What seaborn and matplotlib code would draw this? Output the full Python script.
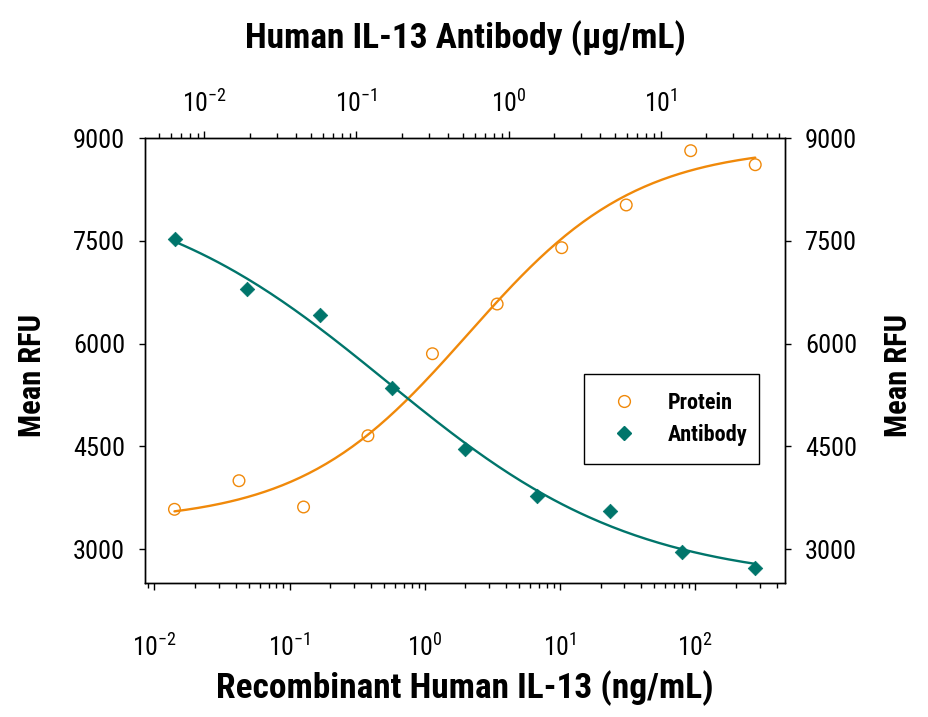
import numpy as np
import matplotlib
matplotlib.use("Agg")
import matplotlib.pyplot as plt
import seaborn as sns
from matplotlib import font_manager
from matplotlib.lines import Line2D

# Valeurs
protein_conc = [0.0141, 0.0423, 0.127, 0.38, 1.14, 3.43, 10.3, 30.9, 92.6, 278]   # ng/mL (axe du bas)
protein_rfu = [3580, 3998, 3614, 4655, 5853, 6579, 7402, 8026, 8819, 8614]
antibody_conc = [0.00635, 0.0191, 0.0572, 0.171, 0.514, 1.54, 4.63, 13.9, 41.7]  # ug/mL (axe du haut)
antibody_rfu = [7529, 6803, 6419, 5348, 4461, 3774, 3555, 2961, 2727]
y_ticks = [3000, 4500, 6000, 7500, 9000]

ORANGE = "#F0890A"
TEAL = "#00756B"

# police etroite : on prend ce qui est installe
fonts = font_manager.fontManager.ttflist
names = {f.name for f in fonts}
found = {(f.name, f.stretch) for f in fonts}
FONT, STRETCH = "DejaVu Sans", "normal"
for cand in ["Liberation Sans Narrow", "Roboto Condensed", "Open Sans Condensed"]:
    if cand in names:
        FONT, STRETCH = cand, "normal"
        break
else:
    for cand in ["Roboto", "Open Sans", "Noto Sans", "DejaVu Sans"]:
        if (cand, "condensed") in found:
            FONT, STRETCH = cand, "condensed"
            break


def fit_4pl(x, y):
    # ajustement logistique 4 parametres (recherche sur grille, bas/haut par moindres carres)
    lx = np.log10(np.asarray(x, float))
    y = np.asarray(y, float)
    logc = np.arange(-3, 3, 0.01)
    hill = np.arange(0.1, 3, 0.01)
    L, H = np.meshgrid(logc, hill, indexing="ij")
    s = 1 / (1 + 10 ** ((L[..., None] - lx) * H[..., None]))
    sm = s.mean(-1)
    ym = y.mean()
    d = ((s - sm[..., None]) * (y - ym)).sum(-1) / ((s - sm[..., None]) ** 2).sum(-1)
    b = ym - d * sm
    sse = ((b[..., None] + d[..., None] * s - y) ** 2).sum(-1)
    i, j = np.unravel_index(np.argmin(sse), sse.shape)
    return b[i, j], d[i, j], logc[i], hill[j]


def curve(x, params):
    b, d, lc, h = params
    return b + d / (1 + 10 ** ((lc - np.log10(x)) * h))


sns.set_theme(style="ticks")
plt.rcParams["font.family"] = [FONT, "DejaVu Sans"]
plt.rcParams["font.stretch"] = STRETCH
for k in ["text.color", "axes.labelcolor", "xtick.color", "ytick.color", "axes.edgecolor"]:
    plt.rcParams[k] = "black"
plt.rcParams["axes.linewidth"] = 1.0

fig = plt.figure(figsize=(9.29, 7.17), dpi=100)
ax = fig.add_axes([145.3 / 929, 1 - 582.7 / 717, 639.4 / 929, 444.4 / 717])
ax2 = ax.twiny()

# courbes ajustees
xp = np.logspace(np.log10(protein_conc[0]), np.log10(protein_conc[-1]), 200)
xa = np.logspace(np.log10(antibody_conc[0]), np.log10(antibody_conc[-1]), 200)
sns.lineplot(x=xp, y=curve(xp, fit_4pl(protein_conc, protein_rfu)), ax=ax,
             color=ORANGE, linewidth=1.7, legend=False)
sns.lineplot(x=xa, y=curve(xa, fit_4pl(antibody_conc, antibody_rfu)), ax=ax2,
             color=TEAL, linewidth=1.7, legend=False)

# points
sns.scatterplot(x=protein_conc, y=protein_rfu, ax=ax, marker="o", s=70,
                facecolor="none", edgecolor=ORANGE, linewidth=1.0, zorder=3)
sns.scatterplot(x=antibody_conc, y=antibody_rfu, ax=ax2, marker="D", s=55,
                color=TEAL, edgecolor=TEAL, linewidth=0.5, zorder=3)

ax.set_xscale("log")
ax2.set_xscale("log")
ax.set_xlim(0.00858, 459)
ax2.set_xlim(0.00408, 65.6)
ax.set_ylim(2508, 9000)
ax.set_yticks(y_ticks)

for a in (ax, ax2):
    a.tick_params(axis="x", which="major", length=5, width=1.0, labelsize=18.5)
    a.tick_params(axis="x", which="minor", length=3.5, width=1.0)
ax.tick_params(axis="x", which="both", pad=32)
ax2.tick_params(axis="x", which="both", pad=10)
ax.tick_params(axis="y", length=4.5, width=1.0, labelsize=19, pad=10,
               right=True, labelright=True)

bold = dict(fontsize=25.5, fontweight="bold")
ax.set_xlabel("Recombinant Human IL-13 (ng/mL)", va="center", **bold)
ax.xaxis.set_label_coords(0.5, -0.237)
ax2.set_xlabel("Human IL-13 Antibody (\u03bcg/mL)", va="center", **bold)
ax2.xaxis.set_label_coords(0.5, 1.2257)
ax.set_ylabel("Mean RFU", va="center", fontsize=22, fontweight="bold")
ax.yaxis.set_label_coords(-0.177, 0.467)
fig.text(898 / 929, 1 - 375 / 717, "Mean RFU", rotation=90, ha="center",
         va="center", fontsize=22, fontweight="bold")

# legende
handles = [
    Line2D([], [], linestyle="none", marker="o", markersize=8.5,
           markerfacecolor="none", markeredgecolor=ORANGE, markeredgewidth=1.0),
    Line2D([], [], linestyle="none", marker="D", markersize=7, color=TEAL),
]
leg = ax.legend(handles, ["Protein", "Antibody"], loc="lower left",
                bbox_to_anchor=(0.6857, 0.267, 0.2737, 0.202), mode="expand",
                frameon=True, fancybox=False, edgecolor="black", framealpha=1,
                prop=dict(weight="bold", size=16),
                handlelength=2.0, handletextpad=1.0, borderpad=0.8,
                labelspacing=0.45, borderaxespad=0)
leg.get_frame().set_linewidth(1.0)

fig.savefig("out.png", dpi=100)
